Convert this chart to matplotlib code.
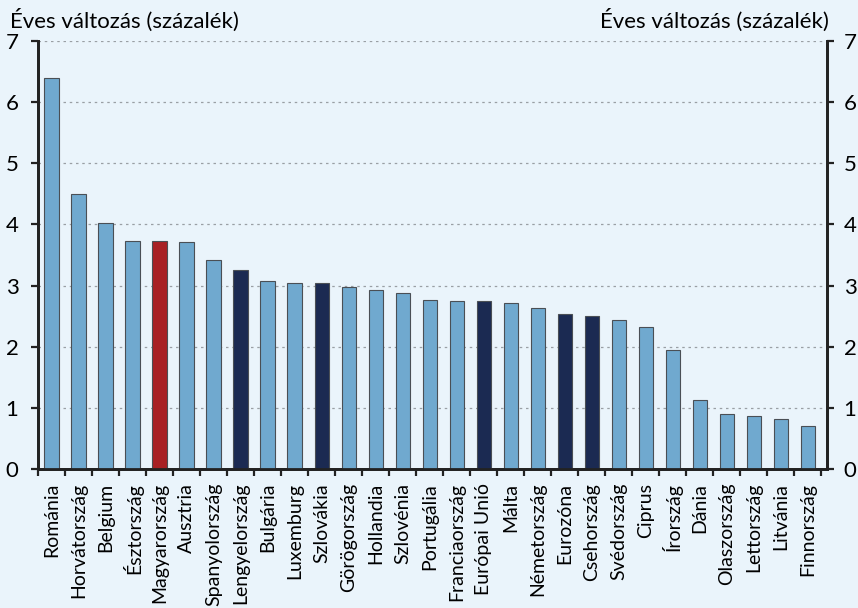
import numpy as np
import matplotlib.pyplot as plt

countries = ["Románia", "Horvátország", "Belgium", "Észtország", "Magyarország",
             "Ausztria", "Spanyolország", "Lengyelország", "Bulgária", "Luxemburg",
             "Szlovákia", "Görögország", "Hollandia", "Szlovénia", "Portugália",
             "Franciaország", "Európai Unió", "Málta", "Németország", "Eurozóna",
             "Csehország", "Svédország", "Ciprus", "Írország", "Dánia",
             "Olaszország", "Lettország", "Litvánia", "Finnország"]
values = [6.39, 4.50, 4.02, 3.73, 3.73, 3.71, 3.42, 3.25, 3.08, 3.05,
          3.05, 2.97, 2.93, 2.88, 2.77, 2.74, 2.74, 2.71, 2.63, 2.54,
          2.51, 2.43, 2.32, 1.95, 1.13, 0.90, 0.87, 0.82, 0.70]
highlight_red = ["Magyarország"]
highlight_dark = ["Lengyelország", "Szlovákia", "Európai Unió", "Eurozóna", "Csehország"]

plt.rcParams['font.family'] = ['Lato', 'DejaVu Sans']
bg = "#eaf4fb"

colors = []
for c in countries:
    if c in highlight_red:
        colors.append("#a82024")
    elif c in highlight_dark:
        colors.append("#1b2a52")
    else:
        colors.append("#70a9cf")

fig = plt.figure(figsize=(8.58, 6.08), dpi=100, facecolor=bg)
ax = fig.add_axes([38 / 858, 1 - 469 / 608, 789 / 858, 428 / 608])
ax.set_facecolor(bg)

n = len(countries)
x = np.arange(n)
ax.bar(x, values, width=0.52, color=colors, edgecolor="#4a4f55", linewidth=0.8, zorder=3)

ax.set_xlim(-0.5, n - 0.5 + 0.22)
ax.set_ylim(0, 7)
ax.set_yticks(range(8))
ax.grid(axis="y", linestyle=(0, (2, 3)), color="#9a9fa4", linewidth=0.9, zorder=0)

ax.set_xticks(x)
ax.set_xticklabels(countries, rotation=90, fontsize=14)
ax.tick_params(axis="x", which="major", length=0, pad=10)
ax.set_xticks(np.arange(n + 1) - 0.5, minor=True)
ax.tick_params(axis="x", which="minor", length=5, width=1.6, color="#222222", direction="out")

ax.tick_params(axis="y", which="major", length=5, width=1.6, color="#222222",
               labelsize=16, pad=9)

# right-hand axis mirrors the left one
ax2 = ax.twinx()
ax2.set_ylim(0, 7)
ax2.set_yticks(range(8))
ax2.tick_params(axis="y", which="major", length=5, width=1.6, color="#222222",
                labelsize=16, pad=7)

for a in (ax, ax2):
    a.spines["top"].set_visible(False)
    for s in ["left", "right", "bottom"]:
        a.spines[s].set_linewidth(2)
        a.spines[s].set_color("#222222")

fig.text(0.012, 0.967, "Éves változás (százalék)", fontsize=16, ha="left", va="center")
fig.text(0.966, 0.967, "Éves változás (százalék)", fontsize=16, ha="right", va="center")

fig.savefig("out.png", dpi=100, facecolor=bg)
